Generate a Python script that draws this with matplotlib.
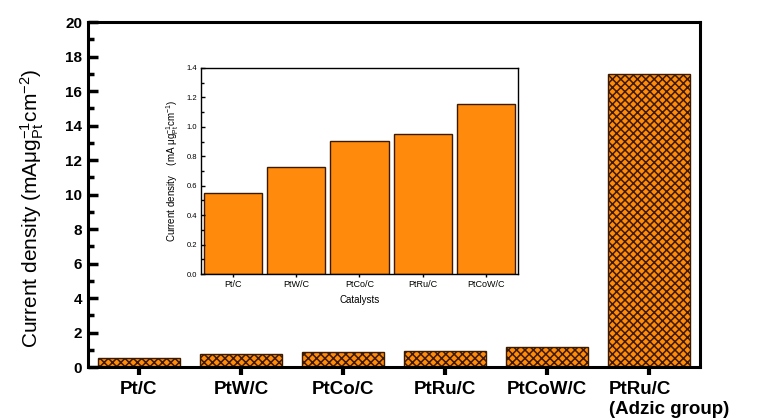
import numpy as np
import matplotlib
matplotlib.use('Agg')
import matplotlib.pyplot as plt
import matplotlib.transforms as mtransforms
from matplotlib.ticker import MultipleLocator

plt.rcParams['font.family'] = ['Liberation Sans', 'DejaVu Sans']
plt.rcParams['mathtext.fontset'] = 'custom'
plt.rcParams['mathtext.rm'] = 'Liberation Sans'
plt.rcParams['mathtext.it'] = 'Liberation Sans'
plt.rcParams['hatch.linewidth'] = 1.1

# main panel data
catalysts = ['Pt/C', 'PtW/C', 'PtCo/C', 'PtRu/C', 'PtCoW/C', 'PtRu/C\n(Adzic group)']
current = [0.55, 0.73, 0.90, 0.95, 1.15, 17.0]

# inset data
inset_cats = ['Pt/C', 'PtW/C', 'PtCo/C', 'PtRu/C', 'PtCoW/C']
inset_current = [0.55, 0.73, 0.905, 0.95, 1.155]

orange = '#ff8a0c'
edge = '#3b1a00'

fig = plt.figure(figsize=(7.57, 4.19), dpi=100)
ax = fig.add_axes([0.116, 0.124, 0.809, 0.823])

x = np.arange(len(catalysts))
ax.bar(x, current, width=0.8, color=orange, edgecolor=edge, hatch='xxxx', linewidth=1.0)
ax.set_xlim(-0.5, 5.5)
ax.set_ylim(0, 20)
ax.yaxis.set_major_locator(MultipleLocator(2))
ax.yaxis.set_minor_locator(MultipleLocator(1))
ax.tick_params(axis='y', which='major', direction='in', length=7, width=2.5,
               labelsize=11, pad=4)
ax.tick_params(axis='y', which='minor', direction='in', length=4, width=2.5)
ax.tick_params(axis='x', direction='out', length=6, width=3, labelsize=13.5, pad=4)
for lbl in ax.get_yticklabels():
    lbl.set_fontweight('bold')
ax.set_xticks(x)
ax.set_xticklabels(catalysts)
for lbl in ax.get_xticklabels():
    lbl.set_fontweight('bold')
last = ax.get_xticklabels()[-1]
last.set_horizontalalignment('left')
last.set_multialignment('left')
last.set_transform(last.get_transform() +
                   mtransforms.ScaledTranslation(-0.40, 0, fig.dpi_scale_trans))
for sp in ax.spines.values():
    sp.set_linewidth(2.2)
ax.set_ylabel('Current density (mA\u03bcg$_{\\mathrm{Pt}}^{\\mathrm{-1}}$cm$^{\\mathrm{-2}}$)',
              fontsize=15)
ax.yaxis.set_label_coords(-0.068, 0.46)

# inset
ins = fig.add_axes([0.2655, 0.346, 0.4185, 0.492])
xi = np.arange(len(inset_cats))
ins.bar(xi, inset_current, width=0.92, color=orange, edgecolor=edge, linewidth=1.0)
ins.set_xlim(-0.5, 4.5)
ins.set_ylim(0, 1.4)
ins.yaxis.set_minor_locator(MultipleLocator(0.1))
ins.tick_params(axis='y', which='major', direction='in', length=3, width=1, labelsize=5.5, pad=3)
ins.tick_params(axis='y', which='minor', direction='in', length=2, width=1)
ins.tick_params(axis='x', direction='out', length=2.5, width=1, labelsize=6.5, pad=2)
ins.set_xticks(xi)
ins.set_xticklabels(inset_cats)
ins.set_yticks(np.arange(0, 1.41, 0.2))
ins.set_yticklabels(['%.1f' % v for v in np.arange(0, 1.41, 0.2)])
for sp in ins.spines.values():
    sp.set_linewidth(1.0)
ins.set_xlabel('Catalysts', fontsize=7, labelpad=4)
ins.set_ylabel('Current density    (mA \u03bcg$_{\\mathrm{Pt}}^{\\mathrm{-1}}$cm$^{\\mathrm{-1}}$)',
               fontsize=7, labelpad=4)

fig.savefig('out.png', dpi=100)
